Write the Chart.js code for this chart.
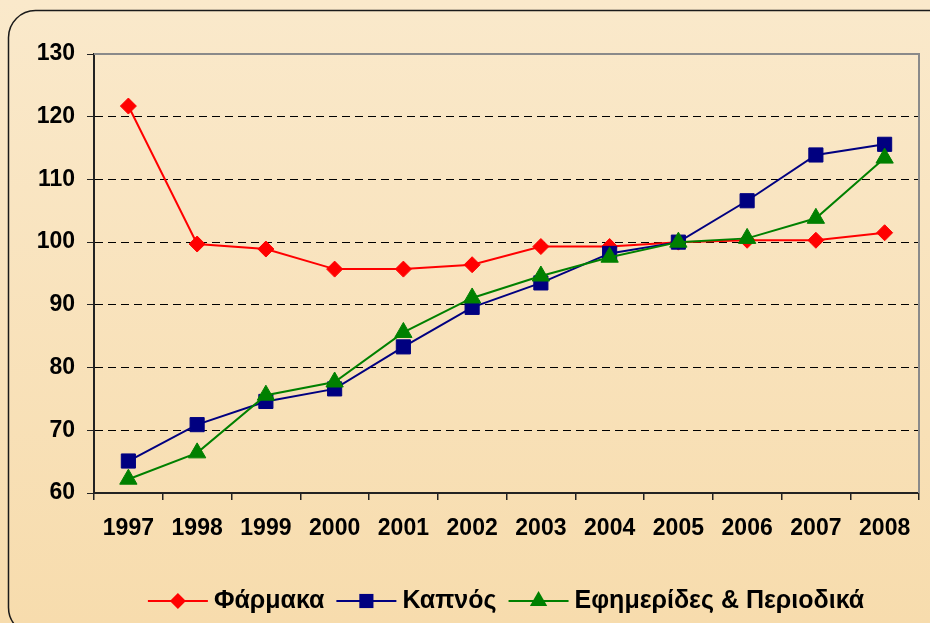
<!DOCTYPE html>
<html>
<head>
<meta charset="utf-8">
<script src="https://cdn.jsdelivr.net/npm/chart.js"></script>
<style>
  html, body { margin: 0; padding: 0; }
  body { width: 930px; height: 623px; overflow: hidden;
         background: linear-gradient(#fae9cb, #f7dcad); }
  #wrap { position: relative; width: 930px; height: 623px; }
</style>
</head>
<body>
<div id="wrap"><canvas id="mycanvas"></canvas></div>
<script>
const years = ['1997','1998','1999','2000','2001','2002','2003','2004','2005','2006','2007','2008'];
const farmaka = [121.7, 99.7, 98.9, 95.7, 95.7, 96.4, 99.3, 99.3, 100, 100.3, 100.3, 101.5];
const kapnos = [65.1, 70.9, 74.6, 76.6, 83.3, 89.6, 93.5, 98.2, 100, 106.6, 113.9, 115.6];
const efimerides = [62.2, 66.4, 75.6, 77.7, 85.6, 91.1, 94.6, 97.6, 100, 100.6, 103.8, 113.4];
const yTicks = [60, 70, 80, 90, 100, 110, 120, 130];

const FONT = '"Liberation Sans", Arial, sans-serif';

// frame around the whole chart + grey border of plot area
const framePlugin = {
  id: 'frame',
  beforeDraw(chart) {
    const c = chart.ctx;
    c.save();
    c.strokeStyle = '#1a1a1a';
    c.lineWidth = 1.5;
    c.beginPath();
    c.roundRect(8.5, 10.5, 960, 624, 27);
    c.stroke();
    c.restore();
  },
  beforeDatasetsDraw(chart) {
    const a = chart.chartArea, c = chart.ctx;
    c.save();
    c.strokeStyle = '#8a8a8a';
    c.lineWidth = 2;
    c.beginPath();
    c.moveTo(a.left, a.top);
    c.lineTo(a.right, a.top);
    c.lineTo(a.right, a.bottom);
    c.stroke();
    c.restore();
  }
};

function marker(c, style, x, y, r, color) {
  c.fillStyle = color;
  c.beginPath();
  if (style === 'rectRot') {
    c.moveTo(x, y - r); c.lineTo(x + r, y); c.lineTo(x, y + r); c.lineTo(x - r, y);
  } else if (style === 'rect') {
    const s = r * Math.SQRT1_2;
    c.rect(x - s, y - s, 2 * s, 2 * s);
  } else {
    c.moveTo(x, y - r); c.lineTo(x + r * 0.866, y + r / 2); c.lineTo(x - r * 0.866, y + r / 2);
  }
  c.closePath();
  c.fill();
}

// legend with line + marker like the original
const lineLegend = {
  id: 'lineLegend',
  afterDraw(chart) {
    const c = chart.ctx;
    const sets = chart.data.datasets;
    const lineW = 60, gapText = 6, gapItem = 12, cy = 601, cx = 506;
    c.save();
    c.font = 'bold 25px ' + FONT;
    let total = 0;
    sets.forEach((d, i) => {
      total += lineW + gapText + c.measureText(d.label).width;
      if (i < sets.length - 1) total += gapItem;
    });
    let x = cx - total / 2;
    sets.forEach(d => {
      c.strokeStyle = d.borderColor;
      c.lineWidth = 2;
      c.beginPath();
      c.moveTo(x, cy); c.lineTo(x + lineW, cy);
      c.stroke();
      marker(c, d.pointStyle, x + lineW / 2, cy, d.pointRadius, d.borderColor);
      c.fillStyle = '#000';
      c.textBaseline = 'middle';
      c.textAlign = 'left';
      c.fillText(d.label, x + lineW + gapText, cy);
      x += lineW + gapText + c.measureText(d.label).width + gapItem;
    });
    c.restore();
  }
};

const data = {
  labels: years,
  datasets: [
    { label: 'Φάρμακα', data: farmaka, borderColor: '#ff0000', backgroundColor: '#ff0000',
      pointStyle: 'rectRot', pointRadius: 8, order: 3 },
    { label: 'Καπνός', data: kapnos, borderColor: '#000080', backgroundColor: '#000080',
      pointStyle: 'rect', pointRadius: 10, order: 2 },
    { label: 'Εφημερίδες & Περιοδικά', data: efimerides, borderColor: '#008000', backgroundColor: '#008000',
      pointStyle: 'triangle', pointRadius: 10, order: 1 }
  ]
};

const config = {
  type: 'line',
  data,
  options: {
    responsive: true,
    maintainAspectRatio: false,
    animation: false,
    layout: { padding: { left: 0, top: 54, right: 8, bottom: 0 } },
    elements: {
      line: { borderWidth: 2, tension: 0 },
      point: { borderWidth: 1, hoverRadius: 10 }
    },
    plugins: {
      legend: { display: false },
      tooltip: { enabled: false }
    },
    scales: {
      x: {
        offset: true,
        grid: { offset: true, drawOnChartArea: false, drawTicks: true, tickLength: 7,
                tickColor: '#222', lineWidth: 1.5 },
        border: { color: '#222', width: 2 },
        ticks: { color: '#000', font: { family: FONT, size: 23, weight: 'bold' }, padding: 15,
                 maxRotation: 0, autoSkip: false },
        afterFit(scale) { scale.height = 130; }
      },
      y: {
        min: 60, max: 130,
        afterBuildTicks(scale) { scale.ticks = yTicks.map(v => ({ value: v })); },
        grid: {
          color: ctx => (ctx.tick && (ctx.tick.value === 60 || ctx.tick.value === 130)) ? 'rgba(0,0,0,0)' : '#000',
          lineWidth: 1,
          tickColor: '#222', tickLength: 7, tickBorderDash: []
        },
        border: { color: '#222', width: 2, dash: [8, 5] },
        ticks: { color: '#000', font: { family: FONT, size: 23, weight: 'bold' }, padding: 12 },
        afterFit(scale) { scale.width = 94; }
      }
    }
  },
  plugins: [framePlugin, lineLegend]
};

const ctx = document.getElementById('mycanvas');
const myChart = new Chart(ctx, config);
</script>
</body>
</html>
